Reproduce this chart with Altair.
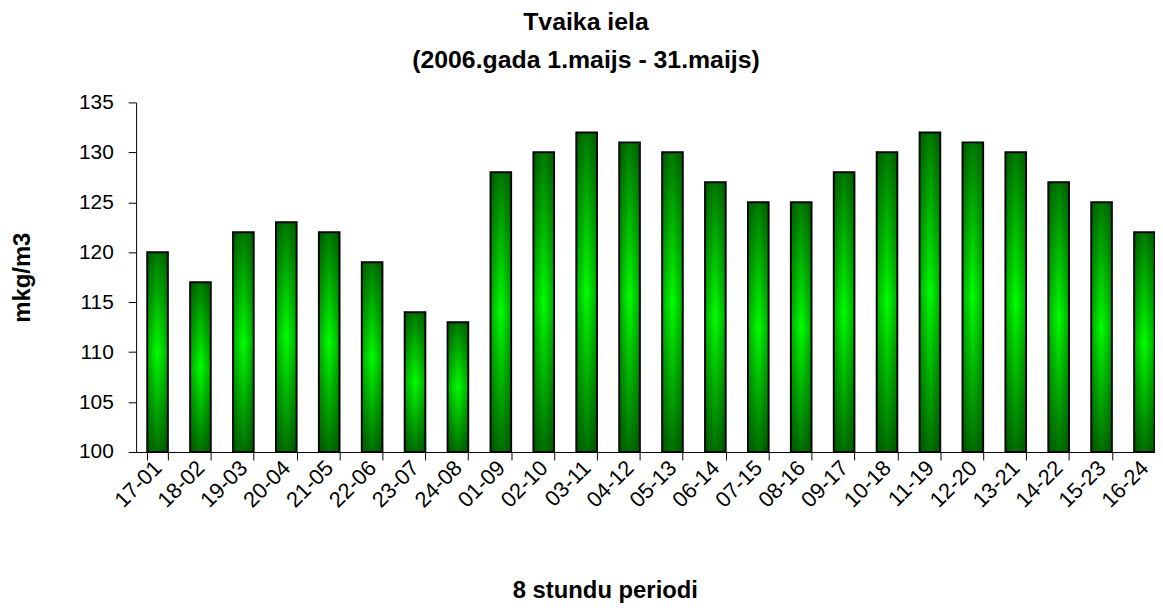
import altair as alt
import pandas as pd

periods = ["17-01", "18-02", "19-03", "20-04", "21-05", "22-06", "23-07", "24-08",
           "01-09", "02-10", "03-11", "04-12", "05-13", "06-14", "07-15", "08-16",
           "09-17", "10-18", "11-19", "12-20", "13-21", "14-22", "15-23", "16-24"]
values = [120, 117, 122, 123, 122, 119, 114, 113,
          128, 130, 132, 131, 130, 127, 125, 125,
          128, 130, 132, 131, 130, 127, 125, 122]

title_lines = ["Tvaika iela", "(2006.gada 1.maijs - 31.maijs)"]
y_title = "mkg/m3"
x_title = "8 stundu periodi"
y_base = 100

df = pd.DataFrame({"period": periods, "value": values})

FONT = "Liberation Sans"

xscale = alt.Scale(domain=periods, range=[0, 1037], paddingInner=0.52, paddingOuter=0.26)
yscale = alt.Scale(domain=[100, 135], nice=False, zero=False)

vgrad = {
    "gradient": "linear", "x1": 0, "y1": 0, "x2": 0, "y2": 1,
    "stops": [
        {"offset": 0.0, "color": "#007a00"},
        {"offset": 0.5, "color": "#00ff00"},
        {"offset": 1.0, "color": "#007000"},
    ],
}
hgrad = {
    "gradient": "linear", "x1": 0, "y1": 0, "x2": 1, "y2": 0,
    "stops": [
        {"offset": 0.0, "color": "rgba(0,40,0,0.38)"},
        {"offset": 0.5, "color": "rgba(0,40,0,0.0)"},
        {"offset": 1.0, "color": "rgba(0,40,0,0.38)"},
    ],
}

x_enc = alt.X(
    "period:N", sort=periods, scale=xscale,
    axis=alt.Axis(
        title=x_title, titleFont=FONT, titleFontSize=24, titleFontWeight="bold",
        titleColor="black", titleX=472, titleY=140, titleAlign="center",
        titleBaseline="middle",
        labelAngle=-45, labelAlign="right", labelBaseline="middle",
        labelFont=FONT, labelFontSize=22, labelColor="black", labelPadding=4,
        tickBand="extent", tickSize=8, tickColor="black", domainColor="black",
        labelOverlap=False,
    ),
)
y_enc = alt.Y(
    "value:Q", scale=yscale,
    axis=alt.Axis(
        values=[100, 105, 110, 115, 120, 125, 130, 135],
        title=y_title, titleFont=FONT, titleFontSize=24, titleFontWeight="bold",
        titleColor="black", titleX=-114, titleY=176, titleAngle=-90,
        titleAlign="center", titleBaseline="middle",
        labelFont=FONT, labelFontSize=21, labelColor="black", labelPadding=15,
        tickSize=8, tickColor="black", domainColor="black", grid=False,
    ),
)

bars = alt.Chart(df).mark_bar(
    fill=vgrad, stroke="black", strokeWidth=2
).encode(x=x_enc, y=y_enc, y2=alt.Y2(datum=y_base))

shade = alt.Chart(df).mark_bar(fill=hgrad, strokeWidth=0).encode(
    x=alt.X("period:N", sort=periods, scale=xscale),
    y=alt.Y("value:Q", scale=yscale),
    y2=alt.Y2(datum=y_base),
)

chart = alt.layer(bars, shade).properties(
    width=1026,
    height=352,
    autosize=alt.AutoSizeParams(type="none"),
    padding={"left": 129, "top": 93, "right": 0, "bottom": 152},
    title=alt.TitleParams(
        text=title_lines, font=FONT, fontSize=25, fontWeight="bold", color="black",
        anchor="middle", dx=-60, dy=20, lineHeight=38, offset=14, baseline="bottom",
    ),
).configure_view(stroke=None)

chart.save("out.html", embed_options={"renderer": "svg", "actions": False})
